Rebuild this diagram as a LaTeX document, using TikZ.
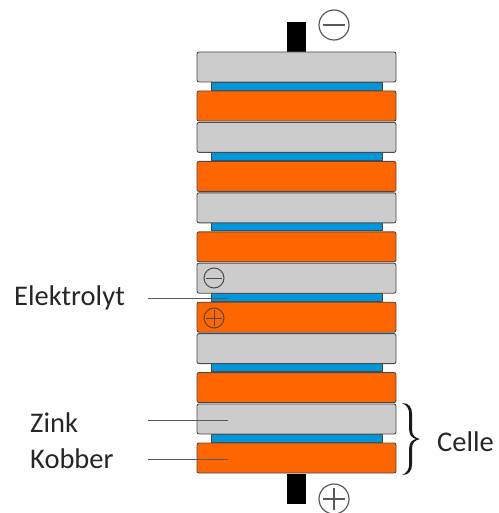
\documentclass[tikz,border=0pt]{standalone}
\usepackage{fontspec}
\setmainfont{Carlito}
\definecolor{zinc}{HTML}{CCCCCC}
\definecolor{copper}{HTML}{FF6600}
\definecolor{electro}{HTML}{0096DC}
\definecolor{edge}{HTML}{4A4A4A}
\begin{document}
\begin{tikzpicture}[x=1pt,y=-1pt,
  plate/.style={draw=edge,line width=0.9pt,rounded corners=2pt,minimum width=199pt,minimum height=30pt,inner sep=0pt,outer sep=0pt},
  zincplate/.style={plate,fill=zinc},
  copperplate/.style={plate,fill=copper},
  electroplate/.style={draw=edge,line width=0.7pt,fill=electro,minimum width=171pt,minimum height=8pt,inner sep=0pt,outer sep=0pt},
  lbl/.style={font=\fontsize{28.5}{30}\selectfont,anchor=base west,inner sep=0pt,text=black!85},
  leader/.style={draw=black!65,line width=0.9pt},
  sign/.style={draw=black!65,line width=1.2pt},
  terminal/.style={fill=black,draw=none,minimum width=19pt,minimum height=30pt,inner sep=0pt}]
\useasboundingbox (0,0) rectangle (498,513);
% terminals
\node[terminal] (tt) at (296.5,37) {};
\node[terminal] (tb) at (296.5,489) {};
% cells
\foreach \i in {0,...,5}{
  \pgfmathsetmacro{\t}{52+70.4*\i}
  \node[electroplate] (e\i) at (296.5,\t+34) {};
  \node[zincplate] (z\i) at (296.5,\t+15) {};
  \node[copperplate] (c\i) at (296.5,\t+54) {};
}
% signs
\node[circle,sign,minimum size=30pt,inner sep=0pt] (mtop) at (334,25) {};
\draw[sign] ([xshift=-11pt]mtop.center) -- ([xshift=11pt]mtop.center);
\node[circle,sign,minimum size=30pt,inner sep=0pt] (pbot) at (334,499) {};
\draw[sign] ([xshift=-11pt]pbot.center) -- ([xshift=11pt]pbot.center);
\draw[sign] ([yshift=-11pt]pbot.center) -- ([yshift=11pt]pbot.center);
\node[circle,draw=edge,line width=1pt,minimum size=20pt,inner sep=0pt] (ms) at (214,278) {};
\draw[draw=edge,line width=1pt] ([xshift=-8pt]ms.center) -- ([xshift=8pt]ms.center);
\node[circle,draw=edge,line width=1pt,minimum size=20pt,inner sep=0pt] (ps) at (214,318) {};
\draw[draw=edge,line width=1pt] ([xshift=-8pt]ps.center) -- ([xshift=8pt]ps.center);
\draw[draw=edge,line width=1pt] ([yshift=-8pt]ps.center) -- ([yshift=8pt]ps.center);
% labels
\node[lbl] (lel) at (14,305) {Elektrolyt};
\node[lbl] (lzn) at (30,432) {Zink};
\node[lbl] (lcu) at (30,468) {Kobber};
\node[lbl] (lce) at (437,451) {Celle};
\coordinate (ael) at (228,298);
\coordinate (azn) at (228,420);
\coordinate (acu) at (228,459);
\draw[leader] (148,298) -- (ael);
\draw[leader] (148,420) -- (azn);
\draw[leader] (148,459) -- (acu);
% brace
\fill[black!90] (402,403) .. controls (409,403) and (412,407) .. (412,414) -- (412,430)
  .. controls (412,435) and (415,438) .. (420,439)
  .. controls (415,440) and (412,443) .. (412,448) -- (412,464)
  .. controls (412,471) and (409,475) .. (402,475)
  .. controls (407,473) and (409.2,469) .. (409.2,464) -- (409.2,448)
  .. controls (409.2,443) and (412,440) .. (416,439)
  .. controls (412,438) and (409.2,435) .. (409.2,430) -- (409.2,414)
  .. controls (409.2,409) and (407,405) .. (402,403) -- cycle;
\end{tikzpicture}
\end{document}
